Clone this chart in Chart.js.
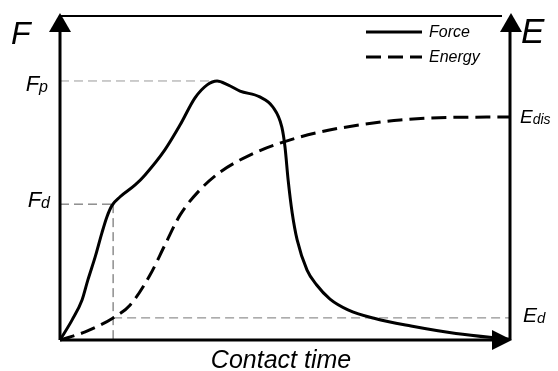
<!DOCTYPE html>
<html>
<head>
<meta charset="utf-8">
<script src="https://cdn.jsdelivr.net/npm/chart.js@4.4.1/dist/chart.umd.min.js"></script>
<style>
  html, body { margin: 0; padding: 0; background: #fff; }
  #wrap { width: 558px; height: 371px; position: relative; }
</style>
</head>
<body>
<div id="wrap"><canvas id="chart" width="558" height="371"></canvas></div>
<script>
// contact time, 0..100 (arbitrary units)
const forceTime = [0, 2.7, 4.9, 6.2, 7.8, 9.3, 10.4, 11.6, 13.3, 16.7, 18.9, 23.3, 26.7, 30, 32.7, 34.9, 37.3, 40, 44.4, 47.3, 49.3, 50, 50.7, 51.6, 52.7, 54.9, 57, 60, 64, 70, 78, 88, 100];
const forceValues = [0, 6.2, 12.3, 18.5, 25.5, 32.9, 37.8, 41.5, 44, 47.7, 50.8, 58.5, 66.2, 74.5, 78.5, 79.7, 78.5, 76.6, 74.8, 71.7, 65.5, 59.4, 49.2, 39.1, 30.8, 21.5, 17, 12.6, 9.3, 6.6, 4.3, 2, 0.2];

const energyTime = [0, 5.6, 11.8, 15.6, 20, 23.3, 26.7, 31.1, 35.6, 42.2, 49.6, 57.8, 66.7, 75.6, 86.7, 100];
const energyValues = [0, 2.5, 6.8, 10.8, 20, 29.2, 38.5, 46.2, 51.7, 56.9, 60.9, 64, 66.2, 67.7, 68.5, 68.6];

// marked levels
const peakForce = 79.7;   // Fp
const peakTime = 33.5;
const knikForce = 41.8;   // Fd
const knikTime = 11.8;
const energyDis = 68.6;   // Edis
const energyD = 6.8;      // Ed
const timeEnd = 100;

const FONT = '"Liberation Sans", Arial, sans-serif';

function pts(xs, ys) {
    return xs.map((x, i) => ({ x: x, y: ys[i] }));
}

function guide(data, color) {
    return {
        label: '',
        data: data,
        borderColor: color,
        borderWidth: 1,
        borderDash: [9, 5],
        pointRadius: 0,
        tension: 0,
        clip: false
    };
}

// draws axes, arrows, level labels and legend
const decorPlugin = {
    id: 'decor',
    afterDatasetsDraw(chart) {
        const ctx = chart.ctx;
        const xs = chart.scales.x, ys = chart.scales.y;
        const L = xs.getPixelForValue(0), R = xs.getPixelForValue(timeEnd);
        const B = ys.getPixelForValue(0), T = chart.chartArea.top;

        ctx.save();
        ctx.strokeStyle = '#000';
        ctx.fillStyle = '#000';

        // top border
        ctx.lineWidth = 2;
        ctx.beginPath();
        ctx.moveTo(L, T + 1);
        ctx.lineTo(R - 8, T + 1);
        ctx.stroke();

        // left, right and bottom axes
        ctx.lineWidth = 3;
        ctx.beginPath();
        ctx.moveTo(L, B);
        ctx.lineTo(L, T + 14);
        ctx.moveTo(R, B);
        ctx.lineTo(R, T + 14);
        ctx.moveTo(L, B);
        ctx.lineTo(R - 14, B);
        ctx.stroke();

        function arrowUp(x) {
            ctx.beginPath();
            ctx.moveTo(x, T - 2);
            ctx.lineTo(x - 11, T + 17);
            ctx.lineTo(x + 11, T + 17);
            ctx.closePath();
            ctx.fill();
        }
        arrowUp(L);
        arrowUp(R + 1);
        ctx.beginPath();
        ctx.moveTo(R + 2, B);
        ctx.lineTo(R - 18, B - 10);
        ctx.lineTo(R - 18, B + 10);
        ctx.closePath();
        ctx.fill();

        // axis letters
        ctx.textBaseline = 'alphabetic';
        ctx.font = 'italic 32px ' + FONT;
        ctx.textAlign = 'left';
        ctx.fillText('F', 11, 44);
        ctx.font = 'italic 35px ' + FONT;
        ctx.fillText('E', 521, 43);

        // letter with small index, x = left or right edge, base = baseline
        function subLabel(main, sub, x, base, align, size) {
            const small = Math.round(size * 0.72);
            ctx.font = 'italic ' + size + 'px ' + FONT;
            const w1 = ctx.measureText(main).width;
            ctx.font = 'italic ' + small + 'px ' + FONT;
            const w2 = ctx.measureText(sub).width;
            const x0 = align === 'right' ? x - w1 - w2 : x;
            ctx.textAlign = 'left';
            ctx.font = 'italic ' + size + 'px ' + FONT;
            ctx.fillText(main, x0, base);
            ctx.font = 'italic ' + small + 'px ' + FONT;
            ctx.fillText(sub, x0 + w1, base + 1);
        }
        subLabel('F', 'p', 48, ys.getPixelForValue(peakForce) + 10, 'right', 22);
        subLabel('F', 'd', 50, ys.getPixelForValue(knikForce) + 3, 'right', 22);
        subLabel('E', 'dis', R + 10, ys.getPixelForValue(energyDis) + 6, 'left', 19);
        subLabel('E', 'd', R + 13, ys.getPixelForValue(energyD) + 4, 'left', 21);

        // x title
        ctx.font = 'italic 25px ' + FONT;
        ctx.textAlign = 'center';
        ctx.fillText('Contact time', 281, 368);

        // legend
        const items = [chart.data.datasets[0], chart.data.datasets[1]];
        items.forEach((ds, i) => {
            const y = 32 + i * 25;
            ctx.lineWidth = 3;
            ctx.setLineDash(ds.borderDash || []);
            ctx.beginPath();
            ctx.moveTo(366, y);
            ctx.lineTo(422, y);
            ctx.stroke();
            ctx.setLineDash([]);
            ctx.font = 'italic 16px ' + FONT;
            ctx.textAlign = 'left';
            ctx.fillText(ds.label, 429, y + 5);
        });
        ctx.restore();
    }
};

new Chart(document.getElementById('chart'), {
    type: 'line',
    data: {
        datasets: [
            {
                label: 'Force',
                data: pts(forceTime, forceValues),
                borderColor: '#000',
                borderWidth: 3,
                pointRadius: 0,
                cubicInterpolationMode: 'monotone',
                clip: false
            },
            {
                label: 'Energy',
                data: pts(energyTime, energyValues),
                borderColor: '#000',
                borderWidth: 3,
                borderDash: [15, 7],
                pointRadius: 0,
                cubicInterpolationMode: 'monotone',
                clip: false
            },
            guide([{ x: 0, y: peakForce }, { x: peakTime, y: peakForce }], '#999'),
            guide([{ x: 0, y: knikForce }, { x: knikTime, y: knikForce }], '#555'),
            guide([{ x: knikTime, y: knikForce }, { x: knikTime, y: 0 }], '#555'),
            guide([{ x: knikTime, y: energyD }, { x: timeEnd, y: energyD }], '#777')
        ]
    },
    options: {
        responsive: false,
        animation: false,
        maintainAspectRatio: false,
        layout: { padding: { left: 60, right: 48, top: 15, bottom: 31 } },
        plugins: {
            legend: { display: false },
            tooltip: { enabled: false }
        },
        scales: {
            x: { type: 'linear', min: 0, max: timeEnd, display: false },
            y: { type: 'linear', min: 0, max: 100, display: false }
        }
    },
    plugins: [decorPlugin]
});
</script>
</body>
</html>
